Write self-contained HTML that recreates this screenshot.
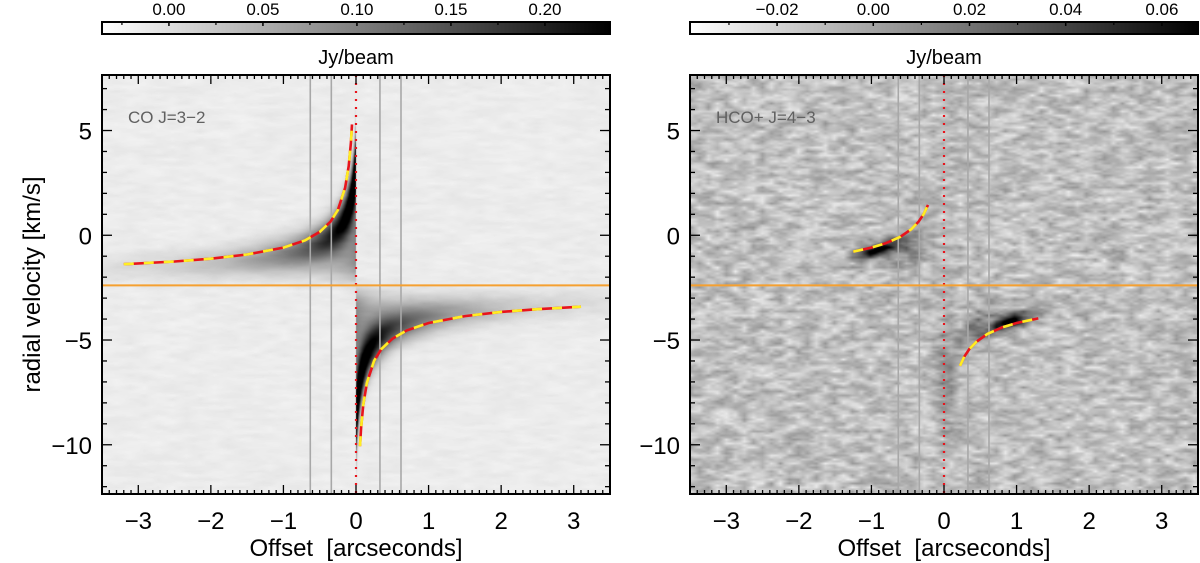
<!DOCTYPE html>
<html><head><meta charset="utf-8">
<style>
html,body{margin:0;padding:0;background:#fff;}
#wrap{position:relative;width:1200px;height:563px;overflow:hidden;font-family:"Liberation Sans",Arial,sans-serif;}
canvas{position:absolute;}
svg{position:absolute;left:0;top:0;}
</style></head>
<body>
<div id="wrap">
<canvas id="c1" width="508" height="419" style="left:102px;top:75px"></canvas>
<canvas id="c2" width="508" height="419" style="left:690px;top:75px"></canvas>
<svg id="s" width="1200" height="563"></svg>
</div>
<script>
// ---- data ----
const vsys = -2.39;
const kepK = 1.8;
const guideOffsets = [-0.63, -0.34, 0.33, 0.62];
const xTicks = [-3, -2, -1, 0, 1, 2, 3];
const yTicks = [5, 0, -5, -10];
const coLeftX = [-3.2,-2.5,-2,-1.5,-1,-0.7,-0.5,-0.35,-0.25,-0.15,-0.1,-0.07,-0.055];
const coLeftV = [-1.38,-1.25,-1.12,-0.92,-0.59,-0.24,0.16,0.65,1.21,2.26,3.30,4.41,5.29];
const coRightX = [0.055,0.07,0.1,0.15,0.25,0.35,0.5,0.7,1,1.5,2,2.5,3.1];
const coRightV = [-10.07,-9.19,-8.08,-7.04,-5.99,-5.43,-4.94,-4.54,-4.19,-3.86,-3.66,-3.53,-3.41];
const hcoLeftX = [-1.25,-1,-0.8,-0.6,-0.45,-0.35,-0.28,-0.22];
const hcoLeftV = [-0.78,-0.59,-0.38,-0.07,0.29,0.65,1.01,1.45];
const hcoRightX = [0.22,0.28,0.35,0.45,0.6,0.8,1,1.3];
const hcoRightV = [-6.23,-5.79,-5.43,-5.07,-4.71,-4.40,-4.19,-3.97];
const cb1Ticks = [0.00, 0.05, 0.10, 0.15, 0.20];
const cb1Labels = ["0.00","0.05","0.10","0.15","0.20"];
const cb1Range = [-0.0356, 0.2346];
const cb2Ticks = [-0.02, 0.00, 0.02, 0.04, 0.06];
const cb2Labels = ["\u22120.02","0.00","0.02","0.04","0.06"];
const cb2Range = [-0.0381, 0.0675];

// ---- geometry ----
const X0 = [102, 690], W = 508, Y0 = 75, H = 419;
const xr = [-3.5, 3.5], yr = [-12.35, 7.65];
function sx(p, x){ return X0[p] + (x - xr[0]) / (xr[1]-xr[0]) * W; }
function sy(v){ return Y0 + (yr[1] - v) / (yr[1]-yr[0]) * H; }

// ---- noise textures ----
let seed = 12345;
function rnd(){ seed = (seed*1103515245 + 12345) & 0x7fffffff; return seed/0x7fffffff; }
function noiseGrid(gw, gh){ const g=[]; for(let i=0;i<gw*gh;i++) g.push(rnd()*2-1); return g; }
function sample(g, gw, gh, fx, fy){
  const x0=Math.floor(fx), y0=Math.floor(fy), tx=fx-x0, ty=fy-y0;
  const a=g[Math.min(y0,gh-1)*gw+Math.min(x0,gw-1)], b=g[Math.min(y0,gh-1)*gw+Math.min(x0+1,gw-1)];
  const c=g[Math.min(y0+1,gh-1)*gw+Math.min(x0,gw-1)], d=g[Math.min(y0+1,gh-1)*gw+Math.min(x0+1,gw-1)];
  return (a*(1-tx)+b*tx)*(1-ty)+(c*(1-tx)+d*tx)*ty;
}
function S(t){ return 1/(1+Math.exp(-t)); }

function render(id, p, base, amp, cx, cy, emis){
  const cv = document.getElementById(id), ctx = cv.getContext('2d');
  const img = ctx.createImageData(W, H);
  const gw = Math.ceil(W/cx)+2, gh = Math.ceil(H/cy)+2;
  const g = noiseGrid(gw, gh), g2 = noiseGrid(gw*2, gh*2);
  for(let j=0;j<H;j++){
    const v = yr[1] - j/H*(yr[1]-yr[0]);
    for(let i=0;i<W;i++){
      const x = xr[0] + i/W*(xr[1]-xr[0]);
      let n = 0.7*sample(g,gw,gh,i/cx,j/cy) + 0.3*sample(g2,gw*2,gh*2,i/(cx/2),j/(cy/2));
      let val = base + amp*n - emis(x, v);
      val = Math.max(0, Math.min(255, val));
      const k = (j*W+i)*4;
      img.data[k]=img.data[k+1]=img.data[k+2]=val; img.data[k+3]=255;
    }
  }
  ctx.putImageData(img,0,0);
}
function coEmis(x, v){
  const s = x < 0 ? 1 : -1;
  const ax = Math.abs(x) + 0.06;
  const dv = (v - vsys) * s;
  const vk = kepK / Math.sqrt(ax);
  const w = 0.5 + 0.15*vk;
  let I = 240*Math.exp(-ax/1.2) * Math.exp(-Math.pow((dv - vk*0.85)/w, 2));
  I += 120*Math.exp(-ax/0.5) * S((vk - dv)/0.3) * S((dv - 0.4)/0.3);
  I *= S((dv+0.2)/0.2);
  return Math.min(I, 240);
}
function hcoEmis(x, v){
  const s = x < 0 ? 1 : -1;
  const ax = Math.abs(x) + 0.03;
  const vk = kepK / Math.sqrt(ax);
  const dv = (v - vsys) * s;
  let I = 190*Math.exp(-Math.pow((ax-0.95)/0.3,2)) * Math.exp(-Math.pow((dv - vk + 0.15)/0.35,2));
  I += 60*Math.exp(-Math.pow((ax-0.5)/0.3,2)) * Math.exp(-Math.pow((dv - vk*0.7)/0.8,2));
  I += 50*Math.exp(-Math.pow(x/0.15,2)) * Math.exp(-Math.pow((v+6.5)/2.5,2));
  return I;
}
render('c1', 0, 236, 7, 14, 4, coEmis);
render('c2', 1, 192, 48, 9, 4, hcoEmis);

// ---- SVG overlay ----
const NS = "http://www.w3.org/2000/svg";
const svg = document.getElementById('s');
function el(tag, attrs, parent){
  const e = document.createElementNS(NS, tag);
  for(const k in attrs) e.setAttribute(k, attrs[k]);
  (parent||svg).appendChild(e); return e;
}
function txt(str, x, y, size, fill, anchor, parent){
  const t = el('text', {x:x, y:y, 'font-size':size, fill:fill, 'text-anchor':anchor||'middle', 'font-family':'"Liberation Sans", Arial, sans-serif'}, parent);
  t.textContent = str; return t;
}
const defs = el('defs', {});
const grad = el('linearGradient', {id:'gr', x1:0, x2:1, y1:0, y2:0}, defs);
el('stop', {offset:'0', 'stop-color':'#fff'}, grad);
el('stop', {offset:'1', 'stop-color':'#000'}, grad);

function curvePath(p, xs, vs){
  return xs.map((x,i)=>(i?'L':'M')+sx(p,x).toFixed(1)+','+sy(vs[i]).toFixed(1)).join(' ');
}
function kepCurve(p, xs, vs, name){
  const g = el('g', {});
  
  
  const d = curvePath(p, xs, vs);
  el('path', {d:d, fill:'none', stroke:'#e8141c', 'stroke-width':2.6}, g);
  el('path', {d:d, fill:'none', stroke:'#ffee22', 'stroke-width':2.6, 'stroke-dasharray':'10 10'}, g);
}

const cbLabelsAll = [cb1Labels, cb2Labels], cbTicksAll = [cb1Ticks, cb2Ticks], cbRanges = [cb1Range, cb2Range];
const names = ['co', 'hco'];
const panelLabels = ['CO J=3\u22122', 'HCO+ J=4\u22123'];

for(let p=0;p<2;p++){
  const L = X0[p], R = L + W, T = Y0, B = Y0 + H;
  const pg = el('g', {});
  
  

  const cb = el('g', {}, pg);
  
  
  el('rect', {x:L, y:22, width:W, height:12, fill:'url(#gr)', stroke:'#000', 'stroke-width':2}, cb);
  const rng = cbRanges[p];
  const cbx = v => L + (v - rng[0])/(rng[1]-rng[0])*W;
  const ts = cbTicksAll[p];
  for(let i=0;i<ts.length;i++){
    const x = cbx(ts[i]);
    el('line', {x1:x, x2:x, y1:22, y2:26, stroke:'#000', 'stroke-width':1.5}, cb);
    const lab = txt(cbLabelsAll[p][i], x, 15, 17, '#000', 'middle', cb);
    
    
    if(i < ts.length-1){
      const xm = cbx((ts[i]+ts[i+1])/2);
      el('line', {x1:xm, x2:xm, y1:22, y2:25, stroke:'#000', 'stroke-width':1.2}, cb);
    }
  }
  const xm0 = cbx(ts[0] - (ts[1]-ts[0])/2);
  if(xm0 > L) el('line', {x1:xm0, x2:xm0, y1:22, y2:25, stroke:'#000', 'stroke-width':1.2}, cb);
  const cbt = txt('Jy/beam', L + W/2, 64, 20, '#000', 'middle', cb);
  
  

  for(const o of guideOffsets){
    const gl = el('line', {x1:sx(p,o), x2:sx(p,o), y1:T, y2:B, stroke:'#a8a8a8', 'stroke-width':1.6}, pg);
    
    
  }
  const zl = el('line', {x1:sx(p,0), x2:sx(p,0), y1:T, y2:B, stroke:'#e8141c', 'stroke-width':2.2, 'stroke-dasharray':'2 6'}, pg);
  
  
  const ol = el('line', {x1:L, x2:R, y1:sy(vsys), y2:sy(vsys), stroke:'#f5a030', 'stroke-width':2}, pg);
  
  

  if(p===0){ kepCurve(0, coLeftX, coLeftV, 'co-kepler-blue'); kepCurve(0, coRightX, coRightV, 'co-kepler-red'); }
  else { kepCurve(1, hcoLeftX, hcoLeftV, 'hco-kepler-blue'); kepCurve(1, hcoRightX, hcoRightV, 'hco-kepler-red'); }

  const fr = el('rect', {x:L, y:T, width:W, height:H, fill:'none', stroke:'#000', 'stroke-width':2}, pg);
  
  

  for(let k=-35;k<=35;k++){
    const x = sx(p, k/10), len = (k%10===0) ? 9 : 4;
    el('line', {x1:x, x2:x, y1:B, y2:B-len, stroke:'#000', 'stroke-width':1.3}, pg);
    el('line', {x1:x, x2:x, y1:T, y2:T+len, stroke:'#000', 'stroke-width':1.3}, pg);
  }
  for(const t of xTicks){
    const lab = txt(t<0 ? '\u2212'+Math.abs(t) : String(t), sx(p,t), 529, 24, '#000', 'middle', pg);
    
    
  }
  for(let v=-12; v<=7; v++){
    const y = sy(v), len = (v%5===0) ? 10 : 5;
    el('line', {x1:L, x2:L+len, y1:y, y2:y, stroke:'#000', 'stroke-width':1.3}, pg);
    el('line', {x1:R, x2:R-len, y1:y, y2:y, stroke:'#000', 'stroke-width':1.3}, pg);
  }
  for(const t of yTicks){
    const lab = txt(t<0 ? '\u2212'+Math.abs(t) : String(t), L-10, sy(t)+9, 24, '#000', 'end', pg);
    
    
  }
  const xt = txt('Offset\u00a0\u00a0[arcseconds]', L + W/2, 556, 24, '#000', 'middle', pg);
  
  
  const pl = txt(panelLabels[p], L + 26, 123, 17, '#606060', 'start', pg);
  
  
}
const yt = txt('radial velocity [km/s]', 0, 0, 24, '#000', 'middle');
yt.setAttribute('transform', 'translate(40,' + (Y0 + H/2) + ') rotate(-90)');


</script>
</body></html>
